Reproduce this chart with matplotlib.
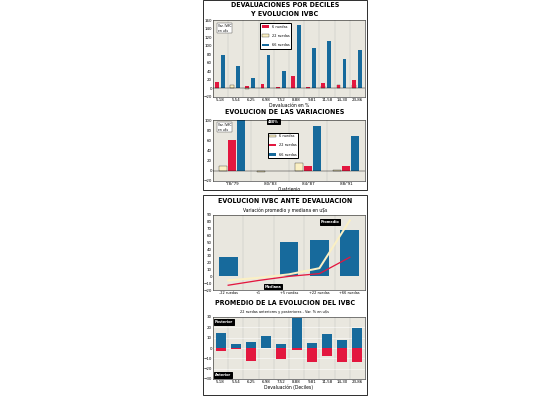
import matplotlib.pyplot as plt
import numpy as np

W, H = 540, 405
BLUE = '#176a9c'
RED = '#e3173f'
CREAM = '#fbf0c4'
BG = '#e9e7df'

deciles = ['5,18', '5,54', '6,25', '6,98', '7,52', '8,88', '9,81', '11,58', '14,30', '23,86']
d_6 = [15, 2, 5, 10, 3, 28, 4, 13, 8, 19]
d_22 = [2, 8, -2, 2, 2, 2, 0, 6, 8, 8]
d_66 = [79, 52, 24, 79, 40, 148, 94, 111, 69, 90]

periods = ["'78/'79", "'80/'83", "'84/'87", "'88/'91"]
p_6 = [10, -2, 16, 2]
p_22 = [60, 0, 9, 10]
p_66 = [480, 0, 88, 69]

horizons = ['-22 ruedas', '+1', '+5 ruedas', '+22 ruedas', '+66 ruedas']
h_bars = [28, 0, 50, 54, 68]
h_prom = [-6, -2, 3, 12, 82]
h_med = [-13, -6, 0, 4, 28]

posterior = [15, 4, 6, 12, 4, 29, 5, 14, 8, 19]
anterior = [-3, -1, -13, 0, -11, -2, -14, -8, -14, -14]

fig = plt.figure(figsize=(W / 72, H / 72), dpi=72)


def ax_px(x0, y0, x1, y1):
    a = fig.add_axes([x0 / W, 1 - y1 / H, (x1 - x0) / W, (y1 - y0) / H])
    a.set_facecolor(BG)
    a.tick_params(labelsize=4, length=0, pad=1)
    for s in a.spines.values():
        s.set_linewidth(0.5)
    return a


def title(y, text, size=7):
    fig.text(285 / W, 1 - y / H, text, ha='center', va='center', fontsize=size,
             fontweight='bold', family='DejaVu Sans', stretch='condensed')


# outer boxes
for y0, y1 in [(0, 190), (195, 395)]:
    fig.add_artist(plt.Rectangle((203 / W, 1 - y1 / H), 164 / W, (y1 - y0) / H,
                                 fill=False, lw=0.8, transform=fig.transFigure))

# panel 1
title(5, 'DEVALUACIONES POR DECILES')
title(14, 'Y EVOLUCION IVBC')
ax = ax_px(213, 20, 365, 97)
x = np.arange(len(deciles))
w = 0.25
ax.bar(x - w, d_22, w, color=CREAM, ec='k', lw=0.3, label='22 ruedas')
ax.bar(x - w, d_6, w, color=RED, label='6 ruedas')
ax.bar(x + w * 0.6, d_66, w, color=BLUE, label='66 ruedas')
ax.set_ylim(-20, 160)
ax.set_yticks(range(-20, 161, 20))
ax.set_xticks(x)
ax.set_xticklabels(deciles)
ax.set_xlim(-0.5, 9.5)
for v in x[:-1] + 0.5:
    ax.axvline(v, color='#bbb', lw=0.4)
ax.axhline(0, color='k', lw=0.4)
ax.set_xlabel('Devaluación en %', fontsize=4.5, labelpad=1)
h, l = ax.get_legend_handles_labels()
ax.legend([h[1], h[0], h[2]], ['6 ruedas', '22 ruedas', '66 ruedas'], fontsize=3.5,
          loc='upper left', bbox_to_anchor=(0.3, 0.98), frameon=True, fancybox=False,
          edgecolor='k', labelspacing=1.5, framealpha=1)
ax.text(0.03, 0.95, 'Var. IVBC\nen u$s', transform=ax.transAxes, fontsize=3,
        va='top', bbox=dict(fc='white', ec='k', lw=0.3, pad=0.8))

# panel 2
title(112, 'EVOLUCION DE LAS VARIACIONES')
ax = ax_px(213, 120, 365, 181)
x = np.arange(len(periods))
w = 0.22
ax.bar(x - w * 1.1, p_6, w, color=CREAM, ec='k', lw=0.3, label='6 ruedas')
ax.bar(x, p_22, w, color=RED, label='22 ruedas')
ax.bar(x + w * 1.1, p_66, w, color=BLUE, label='66 ruedas')
ax.set_ylim(-20, 100)
ax.set_yticks(range(-20, 101, 20))
ax.set_xticks(x)
ax.set_xticklabels(periods)
ax.set_xlim(-0.5, 3.5)
for v in x[:-1] + 0.5:
    ax.axvline(v, color='#bbb', lw=0.4)
ax.axhline(0, color='k', lw=0.4)
ax.set_xlabel('Cuatrienio', fontsize=4.5, labelpad=1)
ax.legend(fontsize=3.5, loc='upper left', bbox_to_anchor=(0.35, 0.82), frameon=True,
          fancybox=False, edgecolor='k', labelspacing=1.5, framealpha=1)
ax.text(0.03, 0.95, 'Var. IVBC\nen u$s', transform=ax.transAxes, fontsize=3,
        va='top', bbox=dict(fc='white', ec='k', lw=0.3, pad=0.8))
ax.text(0.95, 97, '%d%%' % p_66[0], fontsize=3.5, color='white', fontweight='bold',
        va='center', bbox=dict(fc='k', pad=0.8))

# panel 3
title(201, 'EVOLUCION IVBC ANTE DEVALUACION')
fig.text(285 / W, 1 - 210 / H, 'Variación promedio y mediana en u$s', ha='center',
         va='center', fontsize=4.5)
ax = ax_px(213, 215, 365, 290)
x = np.arange(len(horizons))
ax.bar(x, h_bars, 0.62, color=BLUE)
ax.plot(x, h_prom, color=CREAM, lw=2, zorder=3)
ax.plot(x, h_med, color=RED, lw=1.3, zorder=3)
ax.set_ylim(-20, 90)
ax.set_yticks(range(-20, 91, 10))
ax.set_xticks(x)
ax.set_xticklabels(horizons, fontsize=3.5)
ax.set_xlim(-0.5, 4.5)
for v in x[:-1] + 0.5:
    ax.axvline(v, color='#bbb', lw=0.4, zorder=0)
ax.text(3.05, 80, 'Promedio', fontsize=3.5, color='white', fontweight='bold',
        va='center', bbox=dict(fc='k', pad=0.8))
ax.text(1.2, -15, 'Mediana', fontsize=3.5, color='white', fontweight='bold',
        va='center', bbox=dict(fc='k', pad=0.8))

# panel 4
title(303, 'PROMEDIO DE LA EVOLUCION DEL IVBC')
fig.text(285 / W, 1 - 312 / H, '22 ruedas anteriores y posteriores - Var. % en u$s',
         ha='center', va='center', fontsize=3.5)
ax = ax_px(213, 317, 365, 379)
x = np.arange(len(deciles))
ax.bar(x, posterior, 0.65, color=BLUE)
ax.bar(x, anterior, 0.65, color=RED)
ax.set_ylim(-30, 30)
ax.set_yticks(range(-30, 31, 10))
ax.set_xticks(x)
ax.set_xticklabels(deciles)
ax.set_xlim(-0.5, 9.5)
for v in x[:-1] + 0.5:
    ax.axvline(v, color='#bbb', lw=0.4, zorder=0)
ax.grid(axis='y', color='white', lw=0.5)
ax.set_axisbelow(True)
ax.set_xlabel('Devaluación (Deciles)', fontsize=4.5, labelpad=1)
ax.text(-0.4, 25, 'Posterior', fontsize=3.5, color='white', fontweight='bold',
        va='center', bbox=dict(fc='k', pad=0.8))
ax.text(-0.4, -26, 'Anterior', fontsize=3.5, color='white', fontweight='bold',
        va='center', bbox=dict(fc='k', pad=0.8))

fig.savefig('out.png', dpi=72)
